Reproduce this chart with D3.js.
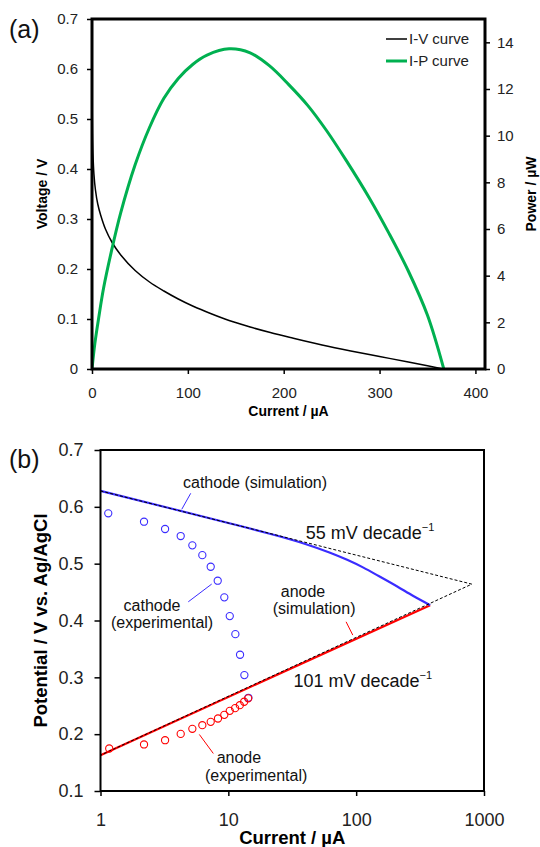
<!DOCTYPE html>
<html><head><meta charset="utf-8">
<script src="https://cdn.jsdelivr.net/npm/d3@7"></script>
<style>
body{margin:0;background:#fff;}
svg{display:block;font-family:Arial,"Liberation Sans",sans-serif;}
</style></head>
<body><svg id="c" width="540" height="847"></svg>
<script>
// ---------- Panel (a) data ----------
const ivCurrent = [0.2, 0.5, 1, 2, 3.6, 6, 9, 14, 21, 30, 45, 60, 75, 90, 105, 125, 143, 165, 186, 207, 240, 270, 300, 330, 350, 366];
const ivVoltage = [0.53, 0.47, 0.43, 0.39, 0.358, 0.33, 0.308, 0.280, 0.253, 0.228, 0.197, 0.174, 0.156, 0.140, 0.126, 0.110, 0.097, 0.084, 0.073, 0.063, 0.048, 0.036, 0.025, 0.014, 0.0065, 0.0];
const ipCurrent = [0, 3, 7, 12, 20, 30, 45, 60, 75, 90, 105, 120, 143, 165, 185, 205, 225, 245, 265, 289, 310, 330, 350, 367];
const ipPower   = [0, 1.1, 2.2, 3.45, 5.0, 6.7, 8.75, 10.35, 11.6, 12.45, 13.05, 13.45, 13.72, 13.55, 13.0, 12.2, 11.3, 10.2, 8.95, 7.35, 5.8, 4.2, 2.3, 0];
const aXTicks = [0, 100, 200, 300, 400];
const aYTicks = [0, 0.1, 0.2, 0.3, 0.4, 0.5, 0.6, 0.7];
const aY2Ticks = [0, 2, 4, 6, 8, 10, 12, 14];
const legendLabels = ["I-V curve", "I-P curve"];

// ---------- Panel (b) data ----------
const cathodeSimI = [1, 10, 25, 40, 62.5, 85, 114, 150, 208, 280, 379];
const cathodeSimV = [0.628, 0.5716, 0.5482, 0.5346, 0.5192, 0.5067, 0.493, 0.4783, 0.4603, 0.443, 0.427];
const anodeSimI = [1, 379];
const anodeSimV = [0.163, 0.427];
const tafelI = [1, 803, 1];
const tafelV = [0.628, 0.464, 0.163];
const cathodeExpI = [1.15, 2.19, 3.2, 4.24, 5.23, 6.26, 7.28, 8.26, 9.3, 10.26, 11.35, 12.35, 13.35, 14.35];
const cathodeExpV = [0.5886, 0.5738, 0.561, 0.5486, 0.5322, 0.515, 0.4946, 0.470, 0.4407, 0.4077, 0.376, 0.3397, 0.3039, 0.264];
const anodeExpI = [1.17, 2.19, 3.2, 4.24, 5.23, 6.26, 7.28, 8.3, 9.3, 10.26, 11.3, 12.3, 13.3, 14.3];
const anodeExpV = [0.1748, 0.1819, 0.1894, 0.2005, 0.2094, 0.2158, 0.2217, 0.2276, 0.234, 0.241, 0.2458, 0.251, 0.257, 0.263];
const bXTicks = [1, 10, 100, 1000];
const bYTicks = [0.1, 0.2, 0.3, 0.4, 0.5, 0.6, 0.7];

const svg = d3.select("#c");
const font = 'Arial,"Liberation Sans",sans-serif';
const smooth = d3.curveCatmullRom.alpha(0.5);

// ================= Panel (a) =================
const A = {l: 92, r: 485, t: 19, b: 369};
const xa = d3.scaleLinear().domain([0, 410]).range([A.l, A.r]);
const ya = d3.scaleLinear().domain([0, 0.7]).range([A.b, A.t]);
const ya2 = d3.scaleLinear().domain([0, 15]).range([A.b, A.t]);

const ga = svg.append("g");
ga.append("defs").append("clipPath").attr("id", "clipA")
  .append("rect").attr("x", A.l).attr("y", A.t).attr("width", A.r - A.l).attr("height", A.b - A.t);

function styleAxis(g, fs) {
  g.select(".domain").remove();
  g.selectAll(".tick line").attr("stroke", "#000").attr("stroke-width", 1.5);
  g.selectAll(".tick text").attr("font-size", fs).attr("font-family", font).attr("fill", "#222");
}

ga.append("g").attr("transform", `translate(0,${A.b})`)
  .call(d3.axisBottom(xa).tickValues(aXTicks).tickSize(5).tickPadding(13).tickFormat(d3.format("d")))
  .call(g => styleAxis(g, 15));
ga.append("g").attr("transform", `translate(${A.l},0)`)
  .call(d3.axisLeft(ya).tickValues(aYTicks).tickSize(5).tickPadding(9).tickFormat(d => d === 0 ? "0" : d3.format(".1f")(d)))
  .call(g => styleAxis(g, 15));
ga.append("g").attr("transform", `translate(${A.r},0)`)
  .call(d3.axisRight(ya2).tickValues(aY2Ticks).tickSize(5).tickPadding(7).tickFormat(d3.format("d")))
  .call(g => styleAxis(g, 15));

const ivData = ivCurrent.map((c, i) => [c, ivVoltage[i]]);
const ipData = ipCurrent.map((c, i) => [c, ipPower[i]]);
ga.append("path").attr("clip-path", "url(#clipA)")
  .attr("d", d3.line().x(d => xa(d[0])).y(d => ya(d[1])).curve(smooth)(ivData))
  .attr("fill", "none").attr("stroke", "#000").attr("stroke-width", 1.5);
ga.append("path").attr("clip-path", "url(#clipA)")
  .attr("d", d3.line().x(d => xa(d[0])).y(d => ya2(d[1])).curve(smooth)(ipData))
  .attr("fill", "none").attr("stroke", "#00b050").attr("stroke-width", 3);

ga.append("rect").attr("x", A.l).attr("y", A.t).attr("width", A.r - A.l).attr("height", A.b - A.t)
  .attr("fill", "none").attr("stroke", "#000").attr("stroke-width", 3);

// legend
const legColors = ["#000", "#00b050"], legW = [1.5, 3];
legendLabels.forEach((lab, i) => {
  const y = 39 + i * 22;
  ga.append("line").attr("x1", 386).attr("x2", 407).attr("y1", y).attr("y2", y)
    .attr("stroke", legColors[i]).attr("stroke-width", legW[i]);
  ga.append("text").attr("x", 409).attr("y", y).attr("dy", "0.35em")
    .attr("font-size", 15).attr("fill", "#222").text(lab);
});

// titles
ga.append("text").attr("x", (A.l + A.r) / 2).attr("y", 411).attr("dy", "0.35em")
  .attr("text-anchor", "middle").attr("font-weight", "bold").attr("font-size", 14).text("Current / µA");
ga.append("text").attr("transform", `translate(42.5,${(A.t + A.b) / 2}) rotate(-90)`).attr("dy", "0.35em")
  .attr("text-anchor", "middle").attr("font-weight", "bold").attr("font-size", 14).text("Voltage / V");
ga.append("text").attr("transform", `translate(531.5,${(A.t + A.b) / 2}) rotate(-90)`).attr("dy", "0.35em")
  .attr("text-anchor", "middle").attr("font-weight", "bold").attr("font-size", 14).text("Power / µW");
ga.append("text").attr("x", 9).attr("y", 29).attr("dy", "0.35em").attr("font-size", 25).attr("fill", "#111").text("(a)");

// ================= Panel (b) =================
const B = {l: 100.5, r: 484, t: 450, b: 791};
const xb = d3.scaleLog().domain([1, 1000]).range([B.l, B.r]);
const yb = d3.scaleLinear().domain([0.1, 0.7]).range([B.b, B.t]);
const gb = svg.append("g");

gb.append("g").attr("transform", `translate(0,${B.b})`)
  .call(d3.axisBottom(xb).tickValues(bXTicks).tickSize(5).tickPadding(17).tickFormat(d3.format("d")))
  .call(g => styleAxis(g, 18));
gb.append("g").attr("transform", `translate(${B.l},0)`)
  .call(d3.axisLeft(yb).tickValues(bYTicks).tickSize(6).tickPadding(11).tickFormat(d3.format(".1f")))
  .call(g => styleAxis(g, 18));

const lineB = d3.line().x(d => xb(d[0])).y(d => yb(d[1]));
const lineBs = d3.line().x(d => xb(d[0])).y(d => yb(d[1])).curve(smooth);
const cathSim = cathodeSimI.map((c, i) => [c, cathodeSimV[i]]);
const anSim = anodeSimI.map((c, i) => [c, anodeSimV[i]]);
const tafel = tafelI.map((c, i) => [c, tafelV[i]]);

gb.append("path").attr("d", lineB(anSim)).attr("fill", "none").attr("stroke", "#ff0000").attr("stroke-width", 2.2);
gb.append("path").attr("d", lineBs(cathSim)).attr("fill", "none").attr("stroke", "#3a2cff").attr("stroke-width", 2.2);
gb.append("path").attr("d", lineB(tafel)).attr("fill", "none").attr("stroke", "#000").attr("stroke-width", 1).attr("stroke-dasharray", "3,2");

gb.selectAll(".cexp").data(cathodeExpI.map((c, i) => [c, cathodeExpV[i]])).enter().append("circle")
  .attr("cx", d => xb(d[0])).attr("cy", d => yb(d[1])).attr("r", 3.6)
  .attr("fill", "none").attr("stroke", "#3a2cff").attr("stroke-width", 1.1);
gb.selectAll(".aexp").data(anodeExpI.map((c, i) => [c, anodeExpV[i]])).enter().append("circle")
  .attr("cx", d => xb(d[0])).attr("cy", d => yb(d[1])).attr("r", 3.6)
  .attr("fill", "#fff").attr("fill-opacity", 0).attr("stroke", "#ff0000").attr("stroke-width", 1.1);

gb.append("rect").attr("x", B.l).attr("y", B.t).attr("width", B.r - B.l).attr("height", B.b - B.t)
  .attr("fill", "none").attr("stroke", "#000").attr("stroke-width", 2);

// annotations (data coordinates)
const leaders = [
  {p: [[4.32, 0.5956], [5.08, 0.6238]], c: "#3a2cff"},
  {p: [[4.86, 0.4329], [7.41, 0.4641]], c: "#3a2cff"},
  {p: [[83.4, 0.3977], [94.1, 0.3743]], c: "#ff0000"},
  {p: [[5.93, 0.1995], [7.63, 0.1660]], c: "#ff0000"}
];
leaders.forEach(l => gb.append("path").attr("d", lineB(l.p)).attr("stroke", l.c).attr("stroke-width", 1).attr("fill", "none"));

const notes = [
  {t: "cathode (simulation)", i: 4.42, v: 0.6437, a: "start", fs: 16},
  {t: "anode", i: 38.4, v: 0.4518, a: "middle", fs: 16},
  {t: "(simulation)", i: 46.9, v: 0.4218, a: "middle", fs: 16},
  {t: "cathode", i: 2.53, v: 0.4271, a: "middle", fs: 16},
  {t: "(experimental)", i: 3.03, v: 0.3972, a: "middle", fs: 16},
  {t: "anode", i: 12.1, v: 0.160, a: "middle", fs: 16},
  {t: "(experimental)", i: 16.5, v: 0.1278, a: "middle", fs: 16}
];
notes.forEach(n => gb.append("text").attr("x", xb(n.i)).attr("y", yb(n.v)).attr("dy", "0.35em")
  .attr("text-anchor", n.a).attr("font-size", n.fs).attr("fill", "#111").text(n.t));

const slopes = [
  {t: "55 mV decade", i: 40.3, v: 0.5539},
  {t: "101 mV decade", i: 32.3, v: 0.2933}
];
slopes.forEach(s => {
  const tx = gb.append("text").attr("x", xb(s.i)).attr("y", yb(s.v)).attr("dy", "0.35em")
    .attr("font-size", 18).attr("fill", "#111");
  tx.append("tspan").text(s.t);
  tx.append("tspan").attr("font-size", 11).attr("dy", "-0.75em").text("−1");
});

gb.append("text").attr("x", (B.l + B.r) / 2).attr("y", 838).attr("dy", "0.35em")
  .attr("text-anchor", "middle").attr("font-weight", "bold").attr("font-size", 18.5).text("Current / µA");
gb.append("text").attr("transform", `translate(40.5,${(B.t + B.b) / 2}) rotate(-90)`).attr("dy", "0.35em")
  .attr("text-anchor", "middle").attr("font-weight", "bold").attr("font-size", 18.5).text("Potential / V vs. Ag/AgCl");
gb.append("text").attr("x", 9).attr("y", 459).attr("dy", "0.35em").attr("font-size", 25).attr("fill", "#111").text("(b)");
</script></body></html>
